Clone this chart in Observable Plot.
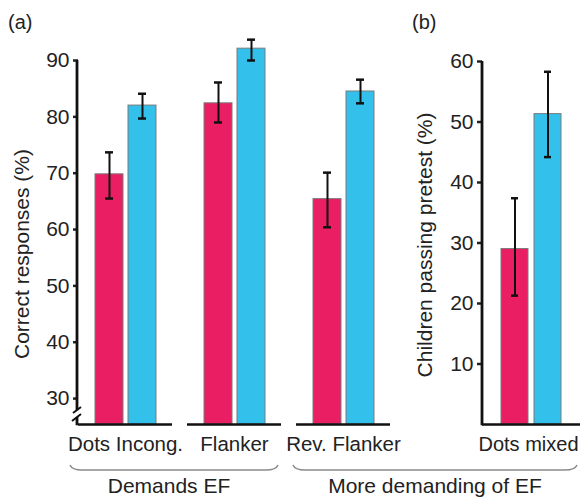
<!DOCTYPE html>
<html><head><meta charset="utf-8">
<script src="https://cdn.jsdelivr.net/npm/d3@7"></script>
<script src="https://cdn.jsdelivr.net/npm/@observablehq/plot@0.6"></script>
<style>
body{margin:0;background:#fff;}
#wrap{position:relative;width:580px;height:497px;font-family:"Liberation Sans",Arial,sans-serif;}
#wrap > svg{position:absolute;top:0;margin:0;overflow:visible;}
</style></head><body><div id="wrap"></div>
<script>
const groups = ["Control", "Trained"];
const colors = ["#ea1e63", "#33c1ec"];

// Panel (a)
const tasksA = ["Dots Incong.", "Flanker", "Rev. Flanker"];
const meanA_control = [69.8, 82.4, 65.4];
const meanA_trained = [82.0, 92.1, 84.5];
const loA_control = [65.5, 79.0, 60.4];
const hiA_control = [73.7, 86.1, 70.1];
const loA_trained = [79.7, 90.0, 82.4];
const hiA_trained = [84.1, 93.7, 86.6];
const ticksA = [30, 40, 50, 60, 70, 80, 90];
const yDomainA = [25.4, 90];
const labelA = "Correct responses (%)";

// Panel (b)
const tasksB = ["Dots mixed"];
const meanB_control = [29.0];
const meanB_trained = [51.3];
const loB_control = [21.3];
const hiB_control = [37.4];
const loB_trained = [44.2];
const hiB_trained = [58.3];
const ticksB = [10, 20, 30, 40, 50, 60];
const yDomainB = [0, 60];
const labelB = "Children passing pretest (%)";

const groupLabels = ["Demands EF", "More demanding of EF"];

function rows(tasks, mc, mt, lc, hc, lt, ht) {
  const out = [];
  tasks.forEach((t, i) => {
    out.push({task: t, group: groups[0], mean: mc[i], lo: lc[i], hi: hc[i]});
    out.push({task: t, group: groups[1], mean: mt[i], lo: lt[i], hi: ht[i]});
  });
  return out;
}
const rowsA = rows(tasksA, meanA_control, meanA_trained, loA_control, hiA_control, loA_trained, hiA_trained);
const rowsB = rows(tasksB, meanB_control, meanB_trained, loB_control, hiB_control, loB_trained, hiB_trained);

const font = "'Liberation Sans', Arial, sans-serif";

function panel(data, tasks, ticks, yDomain, opts) {
  return Plot.plot({
    width: opts.width, height: 497,
    marginLeft: opts.marginLeft, marginRight: opts.marginRight,
    marginTop: opts.marginTop, marginBottom: 73,
    style: {fontFamily: font, fontSize: "21px", color: "#222", background: "transparent", overflow: "visible"},
    fx: {domain: tasks, paddingInner: opts.fxPad, paddingOuter: 0, axis: null},
    x: {domain: groups, paddingInner: opts.xPadIn, paddingOuter: opts.xPadOut, axis: null},
    y: {domain: yDomain, axis: null},
    color: {domain: groups, range: colors},
    marks: [
      Plot.barY(data, {fx: "task", x: "group", y1: yDomain[0], y2: "mean", fill: "group", stroke: "#7a7a7a", strokeWidth: 1}),
      Plot.ruleX(data, {fx: "task", x: "group", y1: "lo", y2: "hi", stroke: "#111", strokeWidth: 2}),
      Plot.tickY(data, {fx: "task", x: "group", y: "lo", stroke: "#111", strokeWidth: 2.5, insetLeft: 10, insetRight: 10}),
      Plot.tickY(data, {fx: "task", x: "group", y: "hi", stroke: "#111", strokeWidth: 2.5, insetLeft: 10, insetRight: 10}),
      Plot.ruleY([yDomain[0]], {stroke: "#111", strokeWidth: 2.5}),
      Plot.axisY({ticks: ticks, tickSize: 5, tickPadding: 4, strokeWidth: 2.5, label: null, fontSize: 21}),
      Plot.axisFx({anchor: "bottom", tickSize: 0, tickPadding: 12, label: null, fontSize: opts.fxFont, dx: opts.fxDx})
    ]
  });
}

const wrap = document.getElementById("wrap");
const optsA = {width: 400, marginLeft: 77, marginRight: 8, marginTop: 60, fxPad: 0.136, xPadIn: 0.164, xPadOut: 0.5, fxFont: 20.5, fxDx: 0};
const optsB = {width: 180, marginLeft: 82, marginRight: 0, marginTop: 61, fxPad: 0, xPadIn: 0.176, xPadOut: 0.53, fxFont: 20, fxDx: -3};
const pa = panel(rowsA, tasksA, ticksA, yDomainA, optsA);
pa.style.left = "0px";
wrap.appendChild(pa);
const pb = panel(rowsB, tasksB, ticksB, yDomainB, optsB);
pb.style.left = "400px";
wrap.appendChild(pb);

// Annotations overlay
const svg = d3.select(wrap).append("svg")
  .attr("width", 580).attr("height", 497)
  .style("left", "0px").style("pointer-events", "none")
  .style("font-family", font);

// y-axis lines from the plots' own y scales
const ya = pa.scale("y"), yb = pb.scale("y");
svg.append("line").attr("x1", optsA.marginLeft).attr("x2", optsA.marginLeft)
  .attr("y1", ya.apply(yDomainA[1])).attr("y2", ya.apply(yDomainA[0]) + 1.25)
  .attr("stroke", "#111").attr("stroke-width", 2.8);
svg.append("line").attr("x1", 400 + optsB.marginLeft).attr("x2", 400 + optsB.marginLeft)
  .attr("y1", yb.apply(yDomainB[1])).attr("y2", yb.apply(yDomainB[0]) + 1.25)
  .attr("stroke", "#111").attr("stroke-width", 2.8);

svg.append("text").attr("x", 8).attr("y", 29).attr("font-size", 20).attr("fill", "#222").text("(a)");
svg.append("text").attr("x", 412).attr("y", 29).attr("font-size", 20).attr("fill", "#222").text("(b)");

svg.append("text").attr("transform", "translate(21,254) rotate(-90)")
  .attr("text-anchor", "middle").attr("dominant-baseline", "central")
  .attr("font-size", 21).attr("fill", "#222").text(labelA);
svg.append("text").attr("transform", "translate(424,245) rotate(-90)")
  .attr("text-anchor", "middle").attr("dominant-baseline", "central")
  .attr("font-size", 21).attr("fill", "#222").text(labelB);

// axis break mark
svg.append("rect").attr("x", 74).attr("y", 410).attr("width", 6).attr("height", 7).attr("fill", "#fff");
svg.append("path").attr("d", "M73,413 L81,407 M72,421 L81,414").attr("stroke", "#111").attr("stroke-width", 2).attr("fill", "none");

// group brackets
svg.append("path").attr("d", "M70,465 Q72,470 82,470 L266,470 Q276,470 278,465")
  .attr("stroke", "#8a8a8a").attr("stroke-width", 1.5).attr("fill", "none");
svg.append("path").attr("d", "M293,465 Q295,470 305,470 L565,470 Q575,470 577,465")
  .attr("stroke", "#8a8a8a").attr("stroke-width", 1.5).attr("fill", "none");
svg.append("text").attr("x", 169).attr("y", 493).attr("text-anchor", "middle").attr("font-size", 21).attr("fill", "#222").text(groupLabels[0]);
svg.append("text").attr("x", 435).attr("y", 493).attr("text-anchor", "middle").attr("font-size", 21).attr("fill", "#222").text(groupLabels[1]);
</script></body></html>
